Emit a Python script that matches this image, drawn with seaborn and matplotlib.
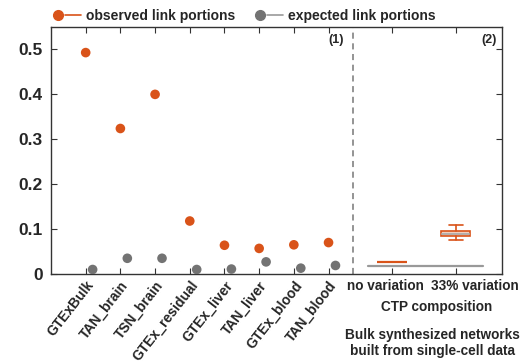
import numpy as np
import pandas as pd
import matplotlib
matplotlib.use("Agg")
import matplotlib.pyplot as plt
import matplotlib.transforms as mtransforms
import seaborn as sns
from matplotlib.lines import Line2D
from matplotlib.legend_handler import HandlerTuple

# ---------------- data ----------------
tissues = ["GTExBulk", "TAN_brain", "TSN_brain", "GTEx_residual",
           "GTEx_liver", "TAN_liver", "GTEx_blood", "TAN_blood"]
observed = [0.493, 0.324, 0.400, 0.118, 0.064, 0.057, 0.065, 0.070]
expected = [0.010, 0.035, 0.035, 0.010, 0.011, 0.027, 0.013, 0.019]

ctp_labels = ["no variation", "33% variation"]
ctp_whislo = [0.026, 0.075]
ctp_q1 = [0.026, 0.084]
ctp_med = [0.026, 0.090]
ctp_q3 = [0.026, 0.096]
ctp_whishi = [0.026, 0.110]
ctp_expected = 0.018

y_ticks = [0, 0.1, 0.2, 0.3, 0.4, 0.5]
y_ticklabels = ["0", "0.1", "0.2", "0.3", "0.4", "0.5"]

# ---------------- style ----------------
sns.set_theme(style="ticks")
plt.rcParams["font.family"] = ["Liberation Sans", "DejaVu Sans"]
plt.rcParams["font.weight"] = "bold"

ORANGE = "#D95319"
GREY = "#737373"
SPINE = "#333333"

fig = plt.figure(figsize=(5.26, 3.62), dpi=100)
ax = fig.add_axes([51/526, 1-274/362, (502-51)/526, (274-27)/362])

# layout positions
tis_pos = np.arange(1, len(tissues) + 1, dtype=float)
ctp_pos = np.array([9.83, 11.67])
ctp_label_x = [9.63, 12.22]
offset = 0.2

df = pd.DataFrame({
    "x": np.concatenate([tis_pos, tis_pos + offset]),
    "value": observed + expected,
    "kind": ["observed"] * len(tissues) + ["expected"] * len(tissues),
})
sns.scatterplot(data=df, x="x", y="value", hue="kind",
                palette={"observed": ORANGE, "expected": GREY},
                s=48, edgecolor="none", legend=False, ax=ax, zorder=3)

# expected line across CTP conditions
sns.lineplot(x=[ctp_pos[0] - 0.7, ctp_pos[1] + 0.78], y=[ctp_expected, ctp_expected],
             color="#999999", lw=1.6, ax=ax, zorder=2)

stats = []
for i, lab in enumerate(ctp_labels):
    stats.append(dict(label=lab, whislo=ctp_whislo[i], q1=ctp_q1[i], med=ctp_med[i],
                      q3=ctp_q3[i], whishi=ctp_whishi[i], fliers=[]))
bp = ax.bxp(stats, positions=ctp_pos, widths=0.84, patch_artist=True, manage_ticks=False,
            boxprops=dict(facecolor="#F1CDBB", edgecolor=ORANGE, lw=1.2),
            medianprops=dict(color="#A8A8A8", lw=1.2),
            whiskerprops=dict(color=ORANGE, lw=1.2),
            capprops=dict(color=ORANGE, lw=1.2), capwidths=0.42, zorder=3)
bp["medians"][0].set_color(ORANGE)
bp["medians"][0].set_linewidth(1.6)

# separator
ax.axvline(8.70, color="#777777", lw=1.1, ls=(0, (4, 3)), zorder=1)

ax.set_xlim(0, 13.0)
ax.set_ylim(0, 0.55)
ax.set_yticks(y_ticks, y_ticklabels)
ax.set_xticks(list(tis_pos) + list(ctp_pos), tissues + ["", ""])
ax.set_xlabel("")
ax.set_ylabel("")

for spine in ax.spines.values():
    spine.set_visible(True)
    spine.set_color(SPINE)
    spine.set_linewidth(1.0)

ax.tick_params(axis="both", direction="in", length=4, width=0.8, color=SPINE,
               top=True, right=True)
ax.tick_params(axis="y", labelsize=12.5, pad=6)
ax.tick_params(axis="x", labelsize=10, pad=3)

for i, t in enumerate(ax.get_xticklabels()):
    t.set_fontweight("bold")
    t.set_rotation(52)
    t.set_ha("right")
    t.set_rotation_mode("anchor")
for t in ax.get_yticklabels():
    t.set_fontweight("bold")

trans = mtransforms.blended_transform_factory(ax.transData, fig.transFigure)
for xl, lab in zip(ctp_label_x, ctp_labels):
    ax.text(xl, 1-286/362, lab, transform=trans, ha="center", va="center",
            fontsize=9.8, fontweight="bold")

ax.text(8.45, 0.52, "(1)", ha="right", va="center", fontsize=9, fontweight="bold")
ax.text(12.85, 0.52, "(2)", ha="right", va="center", fontsize=9, fontweight="bold")

fig.text(437/526, 1-307/362, "CTP composition", ha="center", va="center",
         fontsize=9.8, fontweight="bold")
fig.text(432/526, 1-343/362, "Bulk synthesized networks\nbuilt from single-cell data",
         ha="center", va="center", fontsize=9.8, fontweight="bold", linespacing=1.25)

# legend
h_obs = (Line2D([], [], marker="o", ls="none", color=ORANGE, markersize=7),
         Line2D([], [], color=ORANGE, lw=1.2))
h_exp = (Line2D([], [], marker="o", ls="none", color=GREY, markersize=7),
         Line2D([], [], color="#999999", lw=1.2))
fig.legend([h_obs, h_exp], ["observed link portions", "expected link portions"],
           handler_map={tuple: HandlerTuple(ndivide=None, pad=0)},
           loc="center left", bbox_to_anchor=(50/526, 1-16/362), ncol=2,
           frameon=False, handlelength=2.2, handletextpad=0.4, columnspacing=1.2,
           borderpad=0, borderaxespad=0, prop=dict(size=10, weight="bold"))

fig.savefig("out.png", dpi=100)
